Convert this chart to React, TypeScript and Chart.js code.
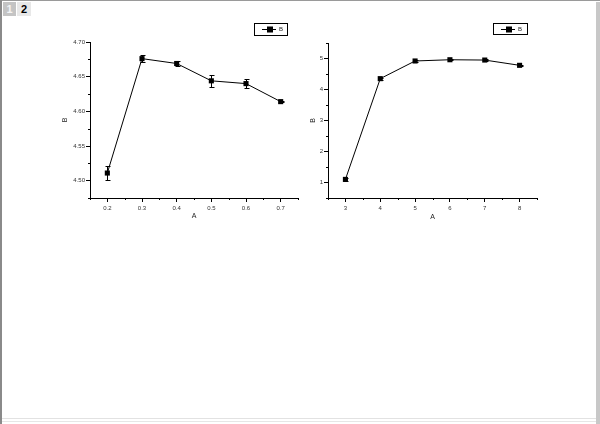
import React, { useEffect, useRef } from "react";
import { Chart, registerables } from "chart.js";

Chart.register(...registerables);

// ---- Data ----
const leftX = [0.2, 0.3, 0.4, 0.5, 0.6, 0.7];
const leftY = [4.511, 4.676, 4.669, 4.644, 4.64, 4.614];
const leftErr = [0.01, 0.005, 0.004, 0.009, 0.006, 0.001];
const leftXTicks = [0.2, 0.3, 0.4, 0.5, 0.6, 0.7];
const leftXMinor = [0.15, 0.25, 0.35, 0.45, 0.55, 0.65, 0.75];
const leftYTicks = [4.5, 4.55, 4.6, 4.65, 4.7];
const leftYMinor = [4.475, 4.525, 4.575, 4.625, 4.675];

const rightX = [3, 4, 5, 6, 7, 8];
const rightY = [1.1, 4.35, 4.92, 4.96, 4.95, 4.78];
const rightErr = [0.06, 0.03, 0.02, 0.02, 0.02, 0.02];
const rightXTicks = [3, 4, 5, 6, 7, 8];
const rightXMinor = [2.5, 3.5, 4.5, 5.5, 6.5, 7.5, 8.5];
const rightYTicks = [1, 2, 3, 4, 5];
const rightYMinor = [0.5, 1.5, 2.5, 3.5, 4.5, 5.5];

const seriesLabel = "B";
const xTitle = "A";
const yTitle = "B";

const FONT = "'Liberation Sans', Arial, sans-serif";

const decoPlugin = {
  id: "deco",
  beforeDatasetsDraw(chart: any, _args: any, opts: any) {
    const ctx = chart.ctx;
    const xs = chart.scales.x;
    const ys = chart.scales.y;
    const data = chart.data.datasets[0].data as { x: number; y: number }[];
    ctx.save();
    ctx.strokeStyle = "#000";
    ctx.lineWidth = 1;
    data.forEach((p, i) => {
      const e = opts.err[i];
      if (!e) return;
      const px = Math.round(xs.getPixelForValue(p.x)) + 0.5;
      const y1 = Math.round(ys.getPixelForValue(p.y + e)) + 0.5;
      const y2 = Math.round(ys.getPixelForValue(p.y - e)) + 0.5;
      ctx.beginPath();
      ctx.moveTo(px, y1);
      ctx.lineTo(px, y2);
      ctx.moveTo(px - 2, y1);
      ctx.lineTo(px + 3, y1);
      ctx.moveTo(px - 2, y2);
      ctx.lineTo(px + 3, y2);
      ctx.stroke();
    });
    ctx.restore();
  },
  afterDraw(chart: any, _args: any, opts: any) {
    const ctx = chart.ctx;
    const xs = chart.scales.x;
    const ys = chart.scales.y;
    const ca = chart.chartArea;
    ctx.save();
    ctx.strokeStyle = "#000";
    ctx.lineWidth = 1;
    ctx.beginPath();
    opts.minorX.forEach((v: number) => {
      const px = Math.round(xs.getPixelForValue(v)) + 0.5;
      ctx.moveTo(px, ca.bottom);
      ctx.lineTo(px, ca.bottom + 2);
    });
    opts.minorY.forEach((v: number) => {
      const py = Math.round(ys.getPixelForValue(v)) + 0.5;
      ctx.moveTo(ca.left, py);
      ctx.lineTo(ca.left - 2, py);
    });
    ctx.stroke();

    // legend box
    const lg = opts.legend;
    ctx.lineWidth = 1;
    ctx.strokeStyle = "#000";
    ctx.strokeRect(lg.x + 0.5, lg.y + 0.5, lg.w, lg.h);
    const my = Math.round(lg.y + lg.h / 2) + 0.5;
    ctx.beginPath();
    ctx.moveTo(lg.x + 8, my);
    ctx.lineTo(lg.x + 22, my);
    ctx.stroke();
    ctx.fillStyle = "#000";
    ctx.fillRect(lg.x + 13, my - 3, 6, 6);
    ctx.font = `6px ${FONT}`;
    ctx.textBaseline = "middle";
    ctx.textAlign = "left";
    ctx.fillStyle = "#222";
    ctx.fillText(opts.label, lg.x + 25, my);
    ctx.restore();
  },
};

interface PanelProps {
  xs: number[];
  ys: number[];
  err: number[];
  xTicks: number[];
  xMinor: number[];
  yTicks: number[];
  yMinor: number[];
  xMin: number;
  xMax: number;
  yMin: number;
  yMax: number;
  xDigits: number;
  yDigits: number;
  yWidth: number;
  padTop: number;
  padRight: number;
  yTitlePad: number;
  xTitlePad: number;
  legend: { x: number; y: number; w: number; h: number };
  width: number;
  height: number;
  left: number;
  top: number;
}

function Panel(p: PanelProps) {
  const ref = useRef<HTMLCanvasElement | null>(null);
  useEffect(() => {
    if (!ref.current) return;
    const tickFont = { family: FONT, size: 6 };
    const titleFont = { family: FONT, size: 7 };
    const chart = new Chart(ref.current, {
      type: "scatter",
      data: {
        datasets: [
          {
            label: seriesLabel,
            data: p.xs.map((x, i) => ({ x, y: p.ys[i] })),
            showLine: true,
            borderColor: "#000",
            backgroundColor: "#000",
            borderWidth: 1,
            pointStyle: "rect",
            pointRadius: 3.6,
            pointHoverRadius: 3.6,
            pointBorderWidth: 0,
            tension: 0,
          },
        ],
      },
      plugins: [decoPlugin as any],
      options: {
        animation: false,
        responsive: false,
        devicePixelRatio: 1,
        events: [],
        layout: { padding: { top: p.padTop, right: p.padRight, left: 0, bottom: 0 } },
        plugins: {
          legend: { display: false },
          tooltip: { enabled: false },
          deco: {
            err: p.err,
            minorX: p.xMinor,
            minorY: p.yMinor,
            legend: p.legend,
            label: seriesLabel,
          },
        } as any,
        scales: {
          x: {
            type: "linear",
            min: p.xMin,
            max: p.xMax,
            afterBuildTicks: (s: any) => {
              s.ticks = p.xTicks.map((v) => ({ value: v }));
            },
            afterFit: (s: any) => {
              s.height = 32;
            },
            ticks: {
              font: tickFont,
              color: "#333",
              padding: 3,
              autoSkip: false,
              maxRotation: 0,
              callback: (v: any) => Number(v).toFixed(p.xDigits),
            },
            grid: {
              drawOnChartArea: false,
              drawTicks: true,
              tickLength: 4,
              color: "#000",
              tickColor: "#000",
            },
            border: { display: true, color: "#000", width: 1 },
            title: {
              display: true,
              text: xTitle,
              font: titleFont,
              color: "#222",
              padding: { top: 0, bottom: p.xTitlePad },
            },
          },
          y: {
            type: "linear",
            min: p.yMin,
            max: p.yMax,
            afterBuildTicks: (s: any) => {
              s.ticks = p.yTicks.map((v) => ({ value: v }));
            },
            afterFit: (s: any) => {
              s.width = p.yWidth;
            },
            ticks: {
              font: tickFont,
              color: "#333",
              padding: 1,
              autoSkip: false,
              callback: (v: any) => Number(v).toFixed(p.yDigits),
            },
            grid: {
              drawOnChartArea: false,
              drawTicks: true,
              tickLength: 4,
              color: "#000",
              tickColor: "#000",
            },
            border: { display: true, color: "#000", width: 1 },
            title: {
              display: true,
              text: yTitle,
              font: titleFont,
              color: "#222",
              padding: { top: p.yTitlePad, bottom: 0 },
            },
          },
        },
      } as any,
    });
    return () => chart.destroy();
  }, []);
  return (
    <canvas
      ref={ref}
      width={p.width}
      height={p.height}
      style={{ position: "absolute", left: p.left, top: p.top, width: p.width, height: p.height }}
    />
  );
}

export default function App() {
  return (
    <div
      style={{
        position: "fixed",
        left: 0,
        top: 0,
        width: 600,
        height: 424,
        background: "#fff",
        overflow: "hidden",
        fontFamily: FONT,
      }}
    >
      {/* window frame */}
      <div style={{ position: "absolute", left: 0, top: 0, width: 600, height: 1, background: "#9a9a9a" }} />
      <div style={{ position: "absolute", left: 0, top: 0, width: 2, height: 424, background: "#8a8a8a" }} />
      <div style={{ position: "absolute", left: 596, top: 2, width: 4, height: 422, background: "#c8c8c8" }} />
      <div style={{ position: "absolute", left: 2, top: 418, width: 594, height: 1, background: "#e2e2e2" }} />
      <div style={{ position: "absolute", left: 2, top: 421, width: 594, height: 1, background: "#e6e6e6" }} />
      {/* tabs */}
      <div
        style={{
          position: "absolute",
          left: 3,
          top: 2,
          width: 13,
          height: 14,
          background: "#c4c4c4",
          color: "#f4f4f4",
          fontSize: 11,
          fontWeight: "bold",
          lineHeight: "14px",
          textAlign: "center",
        }}
      >
        1
      </div>
      <div
        style={{
          position: "absolute",
          left: 17,
          top: 2,
          width: 14,
          height: 14,
          background: "#e8e8e8",
          color: "#000",
          fontSize: 11,
          fontWeight: "bold",
          lineHeight: "14px",
          textAlign: "center",
        }}
      >
        2
      </div>
      <Panel
        xs={leftX}
        ys={leftY}
        err={leftErr}
        xTicks={leftXTicks}
        xMinor={leftXMinor}
        yTicks={leftYTicks}
        yMinor={leftYMinor}
        xMin={0.15}
        xMax={0.75}
        yMin={4.475}
        yMax={4.7}
        xDigits={1}
        yDigits={2}
        yWidth={50}
        padTop={22}
        padRight={17}
        yTitlePad={21}
        xTitlePad={10}
        legend={{ x: 214, y: 3, w: 33, h: 12 }}
        width={275}
        height={210}
        left={40}
        top={20}
      />
      <Panel
        xs={rightX}
        ys={rightY}
        err={rightErr}
        xTicks={rightXTicks}
        xMinor={rightXMinor}
        yTicks={rightYTicks}
        yMinor={rightYMinor}
        xMin={2.5}
        xMax={8.5}
        yMin={0.5}
        yMax={5.5}
        xDigits={0}
        yDigits={0}
        yWidth={43}
        padTop={23}
        padRight={18}
        yTitlePad={24}
        xTitlePad={9}
        legend={{ x: 208, y: 3, w: 34, h: 11 }}
        width={270}
        height={210}
        left={285}
        top={20}
      />
    </div>
  );
}
